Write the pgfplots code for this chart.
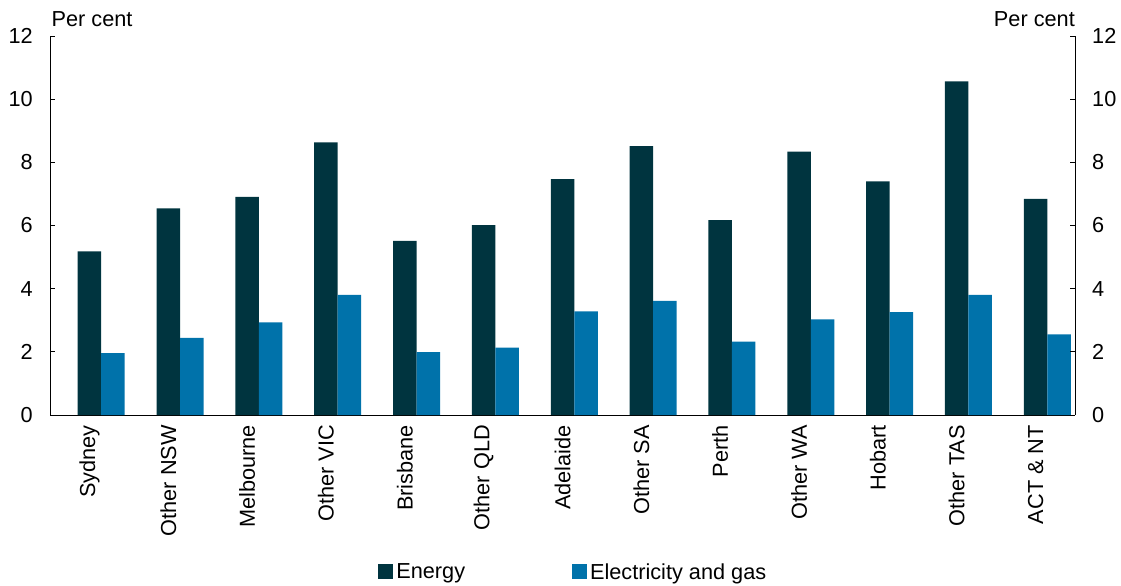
\documentclass[border=0pt]{standalone}
\usepackage{fontspec}
\setmainfont{Liberation Sans}
\usepackage{pgfplots}
\pgfplotsset{compat=1.18}
\definecolor{energy}{HTML}{00343F}
\definecolor{elec}{HTML}{0072AA}
\begin{document}
\begin{tikzpicture}
\pgfplotsset{
  common/.style={
    width=1025pt, height=379pt, scale only axis,
    at={(0,0)}, anchor=south west,
    xmin=-0.5, xmax=12.5, ymin=0, ymax=12,
    ytick={0,2,...,12},
    font=\fontsize{21.7}{26}\selectfont,
    /pgf/number format/assume math mode=true,
    tick align=inside,
    major tick length=5pt, minor tick length=6pt,
    tick style={black, line width=0.8pt},
    axis line style={black, line width=0.9pt},
  }
}
\begin{axis}[common, name=ax,
  axis x line*=bottom, axis y line*=left,
  ybar=0pt, bar width=23.5pt,
  xtick={0,...,12},
  xticklabels={Sydney,Other NSW,Melbourne,Other VIC,Brisbane,Other QLD,Adelaide,Other SA,Perth,Other WA,Hobart,Other TAS,ACT \& NT},
  x tick style={draw=none},
  minor xtick={0.5,1.5,...,11.5},
  minor x tick style={black, line width=0.8pt},
  xticklabel style={rotate=90, anchor=east, inner sep=0pt, xshift=-5pt},
  yticklabel style={anchor=east, inner sep=0pt, xshift=-17pt},
  legend columns=2,
  legend style={at={(0.511,-0.414)}, anchor=center, draw=none, fill=none,
    nodes={inner sep=3pt},
    /tikz/every even column/.append style={column sep=104pt}},
  legend image code/.code={\fill[#1] (0pt,-7.5pt) rectangle (15pt,7.5pt);},
]
\addplot[fill=energy, draw=none, bar shift=0pt] coordinates {
(0,5.18) (1,6.54) (2,6.91) (3,8.63) (4,5.51) (5,6.01) (6,7.47) (7,8.51) (8,6.17) (9,8.34) (10,7.40) (11,10.56) (12,6.84)};
\addplot[fill=elec, draw=none, bar shift=23.5pt] coordinates {
(0,1.96) (1,2.44) (2,2.93) (3,3.80) (4,1.99) (5,2.13) (6,3.28) (7,3.61) (8,2.32) (9,3.03) (10,3.26) (11,3.80) (12,2.55)};
\legend{Energy, Electricity and gas}
\end{axis}
\begin{axis}[common,
  axis x line=none, axis y line*=right,
  yticklabel style={anchor=west, inner sep=0pt, xshift=17pt},
]
\end{axis}
\node[anchor=base west, inner sep=0pt, font=\fontsize{21.7}{26}\selectfont] at ([shift={(1.5pt,9pt)}]ax.north west) {Per cent};
\node[anchor=base east, inner sep=0pt, font=\fontsize{21.7}{26}\selectfont] at ([yshift=9pt]ax.north east) {Per cent};
\pgfresetboundingbox
\path[use as bounding box] ([shift={(-50pt,-170pt)}]ax.south west) rectangle ([shift={(46pt,36pt)}]ax.north east);
\end{tikzpicture}
\end{document}
